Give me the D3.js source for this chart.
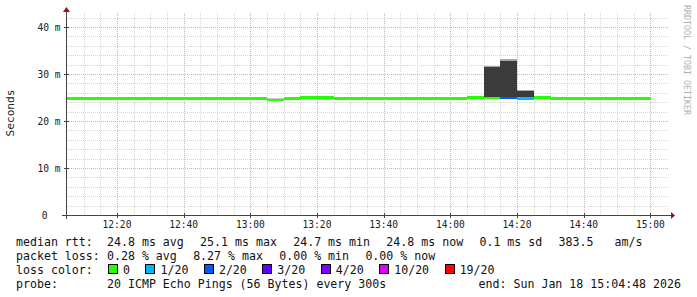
<!DOCTYPE html>
<html><head><meta charset="utf-8">
<script src="https://cdn.jsdelivr.net/npm/d3@7"></script>
<style>body{margin:0;background:#fff}svg{display:block}text{font-family:"DejaVu Sans Mono",monospace}</style>
</head><body><svg id="c" width="697" height="297"></svg>
<script>
// ---- data ----
const startTime = "2026-01-18T12:05:00";
const stepMinutes = 5;
// median RTT per 5-minute interval (ms), 12:05 .. 14:55
const median = [24.8,24.8,24.8,24.8,24.8,24.8,24.8,24.8,24.8,24.8,24.8,24.8,
                24.5,24.8,25.0,25.0,24.8,24.8,24.8,24.8,24.8,24.8,24.8,24.8,
                25.0,24.9,24.9,24.8,25.0,24.8,24.8,24.8,24.8,24.8,24.8];
// lost pings out of 20 per interval
const lost = [0,0,0,0,0,0,0,0,0,0,0,0,0,0,0,0,0,0,0,0,0,0,0,0,
              0,0,2,1,0,0,0,0,0,0,0];
// smoke (spread of pings) low / high per interval (ms)
const smokeLo = [24.8,24.8,24.8,24.8,24.8,24.8,24.8,24.8,24.8,24.8,24.8,24.8,
                 24.4,24.8,24.9,24.4,24.8,24.8,24.8,24.8,24.8,24.8,24.8,24.8,
                 24.9,24.9,24.9,24.8,24.9,24.8,24.8,24.8,24.8,24.8,24.8];
const smokeHi = [24.9,24.9,24.9,24.9,24.9,24.9,24.9,24.9,25.2,24.9,25.2,24.9,
                 24.8,24.9,25.2,25.2,24.9,24.9,24.9,24.9,24.9,24.9,24.9,24.9,
                 25.2,31.8,33.1,26.6,25.2,25.2,25.2,24.9,25.2,25.2,24.9];
const yTicks = [0,10,20,30,40];
const yTickLabels = ["0","10 m","20 m","30 m","40 m"];
const xTickTimes = ["12:20","12:40","13:00","13:20","13:40","14:00","14:20","14:40","15:00"];
const lossLevels = [0,1,2,3,4,10,19];
const lossLabels = ["0","1/20","2/20","3/20","4/20","10/20","19/20"];
const lossColors = ["#26ff00","#00b8ff","#0059ff","#5e00ff","#7e00ff","#dd00ff","#ff0000"];
const medianLabel = "median rtt:";
const medianStats = ["24.8 ms avg","25.1 ms max","24.7 ms min","24.8 ms now","0.1 ms sd","383.5   am/s"];
const lossLabel = "packet loss:";
const lossStats = ["0.28 % avg","8.27 % max","0.00 % min","0.00 % now"];
const colorLabel = "loss color:";
const probeLabel = "probe:";
const probeText = "20 ICMP Echo Pings (56 Bytes) every 300s";
const endText = "end: Sun Jan 18 15:04:48 2026";
const yTitle = "Seconds";
const watermark = "RRDTOOL / TOBI OETIKER";

// ---- drawing ----
const svg = d3.select("#c");
const t0 = new Date(startTime);
const tAt = i => new Date(t0.getTime() + i*stepMinutes*60000);
const day = "2026-01-18T";
const x = d3.scaleTime().domain([t0, new Date(day+"15:05:00")]).range([67, 667]);
const y = d3.scaleLinear().domain([0, 43]).range([215, 12.9]);
const L = 67, R = 667, B = 215, T = 12.9;

// grid
const minorT = d3.timeMinute.every(5).range(new Date(day+"12:10:00"), new Date(day+"15:01:00"));
const majorT = xTickTimes.map(s => new Date(day+s+":00"));
const isMajor = d => d.getMinutes() % 20 === 0;
const g = svg.append("g").attr("shape-rendering","crispEdges");
g.selectAll(".vmin").data(minorT.filter(d=>!isMajor(d))).join("line")
  .attr("x1",d=>Math.round(x(d))+0.5).attr("x2",d=>Math.round(x(d))+0.5).attr("y1",T).attr("y2",B)
  .attr("stroke","#d4d4d4").attr("stroke-dasharray","1,1");
const hMinor = d3.range(2, 43, 2).filter(v => v % 10 !== 0);
g.selectAll(".hmin").data(hMinor).join("line")
  .attr("x1",L).attr("x2",R+2).attr("y1",d=>Math.round(y(d))+0.5).attr("y2",d=>Math.round(y(d))+0.5)
  .attr("stroke","#d4d4d4").attr("stroke-dasharray","1,1");
g.selectAll(".vmaj").data(majorT).join("line")
  .attr("x1",d=>Math.round(x(d))+0.5).attr("x2",d=>Math.round(x(d))+0.5).attr("y1",T).attr("y2",B)
  .attr("stroke","#e8a6a6").attr("stroke-dasharray","1,1");
g.selectAll(".hmaj").data(yTicks.filter(v=>v>0)).join("line")
  .attr("x1",L).attr("x2",R+2).attr("y1",d=>Math.round(y(d))+0.5).attr("y2",d=>Math.round(y(d))+0.5)
  .attr("stroke","#e8a6a6").attr("stroke-dasharray","1,1");

// smoke
const idx = d3.range(median.length);
const sm = svg.append("g").attr("shape-rendering","crispEdges");
sm.selectAll("rect.s").data(idx).join("rect")
  .attr("x", i=>x(tAt(i))).attr("width", i=>x(tAt(i+1))-x(tAt(i)))
  .attr("y", i=>y(smokeHi[i])).attr("height", i=>y(smokeLo[i])-y(smokeHi[i]))
  .attr("fill", i => (smokeHi[i]-smokeLo[i]) > 1 ? "#3b3b3b" : "#c8c8c8");
sm.selectAll("rect.cap").data(idx.filter(i => smokeHi[i]-smokeLo[i] > 1)).join("rect")
  .attr("x", i=>x(tAt(i))).attr("width", i=>x(tAt(i+1))-x(tAt(i)))
  .attr("y", i=>y(smokeHi[i])).attr("height", 1.5).attr("fill","#a8a8a8");

// median line coloured by loss
const colorFor = n => { let c = lossColors[0]; lossLevels.forEach((lv,k)=>{ if (n >= lv) c = lossColors[k]; }); return c; };
svg.append("g").attr("shape-rendering","crispEdges").selectAll("rect").data(idx).join("rect")
  .attr("x", i=>x(tAt(i))).attr("width", i=>x(tAt(i+1))-x(tAt(i))+0.3)
  .attr("y", i=>y(median[i])-1.2).attr("height", 2.4)
  .attr("fill", i=>colorFor(lost[i]));

// axes
const ax = svg.append("g").attr("shape-rendering","crispEdges");
ax.append("line").attr("x1",62).attr("x2",671).attr("y1",B+0.5).attr("y2",B+0.5).attr("stroke","#444");
ax.append("line").attr("x1",L-0.5).attr("x2",L-0.5).attr("y1",219).attr("y2",11).attr("stroke","#444");
svg.append("path").attr("d",`M${671},${B-3} L${675},${B+0.5} L${671},${B+4} Z`).attr("fill","#8b1a1a");
svg.append("path").attr("d",`M${L-4},${12} L${L-0.5},${7} L${L+3},${12} Z`).attr("fill","#8b1a1a");
ax.selectAll(".xt").data(majorT).join("line")
  .attr("x1",d=>Math.round(x(d))+0.5).attr("x2",d=>Math.round(x(d))+0.5).attr("y1",B-2).attr("y2",B+3).attr("stroke","#444");
ax.selectAll(".yt").data(yTicks).join("line")
  .attr("x1",L-3).attr("x2",L+2).attr("y1",d=>Math.round(y(d))+0.5).attr("y2",d=>Math.round(y(d))+0.5).attr("stroke","#444");

// tick labels
svg.append("g").selectAll("text").data(majorT).join("text")
  .attr("x", d=>x(d)).attr("y", 228).attr("text-anchor","middle")
  .attr("font-size","9.6px").attr("fill","#222").text((d,i)=>xTickTimes[i]);
svg.append("g").selectAll("text").data(yTicks).join("text")
  .attr("x", (d,i)=> i===0 ? 47.5 : 60.5).attr("y", d=>y(d)+3.5).attr("text-anchor","end")
  .attr("font-size","9.6px").attr("fill","#222").text((d,i)=>yTickLabels[i]);

// y title
svg.append("text").attr("transform","translate(14,113) rotate(-90)").attr("text-anchor","middle")
  .attr("font-size","11.2px").attr("fill","#222").text(yTitle);
// watermark
svg.append("text").attr("transform","translate(684,60) rotate(90)").attr("text-anchor","middle")
  .attr("font-size","8.3px").attr("fill","#b0b0b0").text(watermark);

// legend
const fs = 11.6, cw = fs*0.602, gap = 16.3;
const leg = svg.append("g").attr("font-size", fs+"px").attr("fill","#111");
const rowY = [245.5, 259.5, 273.5, 287.5];
function row(label, items, ry) {
  leg.append("text").attr("x",16).attr("y",ry).text(label);
  let xx = 107;
  items.forEach(s => { leg.append("text").attr("x",xx).attr("y",ry).attr("xml:space","preserve").text(s); xx += s.length*cw + gap; });
}
row(medianLabel, medianStats, rowY[0]);
row(lossLabel, lossStats, rowY[1]);
leg.append("text").attr("x",16).attr("y",rowY[2]).text(colorLabel);
let bx = 108;
lossLabels.forEach((s,k) => {
  leg.append("rect").attr("x",bx+0.5).attr("y",rowY[2]-9.5).attr("width",9).attr("height",9)
    .attr("fill",lossColors[k]).attr("stroke","#000").attr("shape-rendering","crispEdges");
  leg.append("text").attr("x",bx+15).attr("y",rowY[2]).text(s);
  bx += 15 + s.length*cw + gap - 0.8;
});
leg.append("text").attr("x",16).attr("y",rowY[3]).text(probeLabel);
leg.append("text").attr("x",107).attr("y",rowY[3]).text(probeText);
leg.append("text").attr("x",681).attr("y",rowY[3]).attr("text-anchor","end").text(endText);
</script></body></html>
